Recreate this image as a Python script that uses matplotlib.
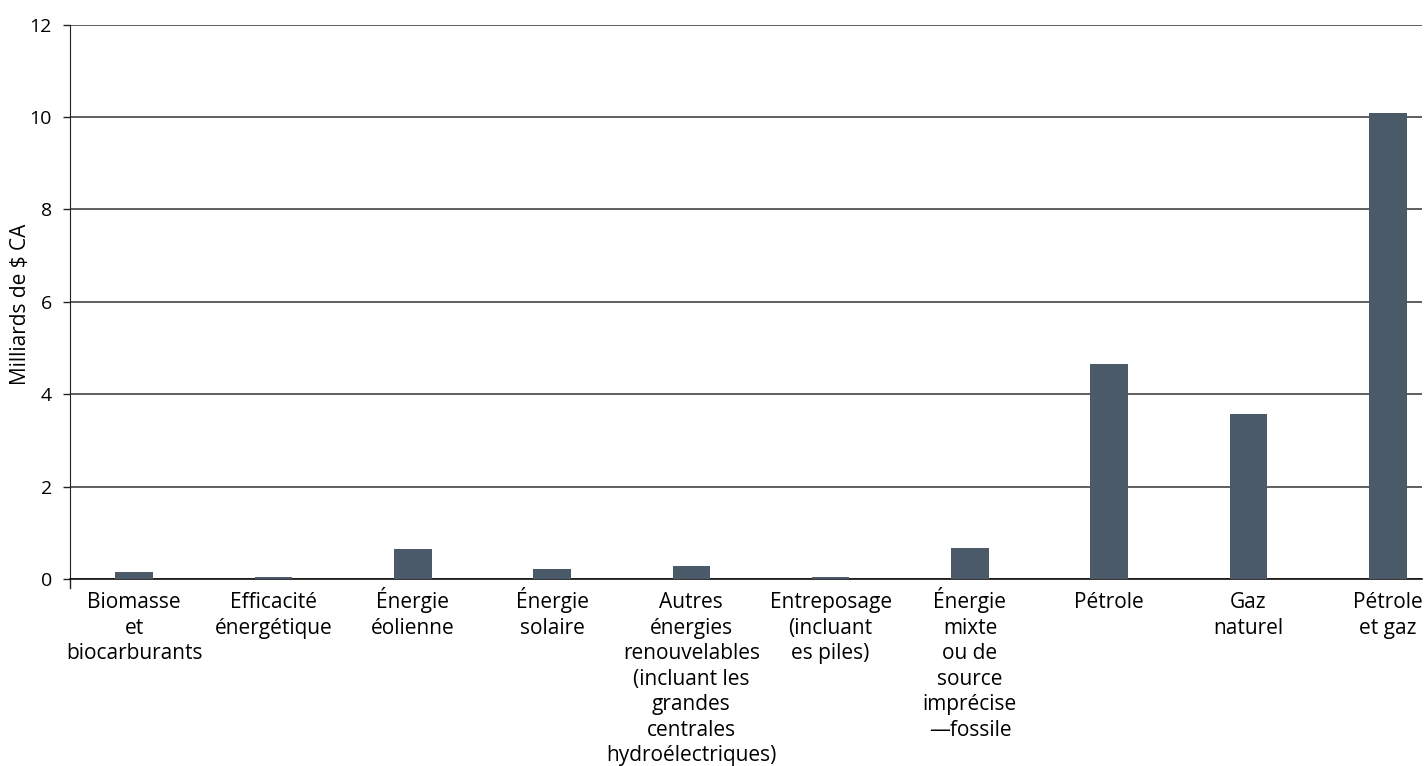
import matplotlib
matplotlib.use("Agg")
import matplotlib.pyplot as plt
import matplotlib.transforms as mtransforms

plt.rcParams['font.family'] = ['Open Sans', 'DejaVu Sans']

categories = [
    "Biomasse\net\nbiocarburants",
    "Efficacité\nénergétique",
    "Énergie\néolienne",
    "Énergie\nsolaire",
    "Autres\nénergies\nrenouvelables\n(incluant les\ngrandes\ncentrales\nhydroélectriques)",
    "Entreposage\n(incluant\nes piles)",
    "Énergie\nmixte\nou de\nsource\nimprécise\n—fossile",
    "Pétrole",
    "Gaz\nnaturel",
    "Pétrole\net gaz",
]
values = [0.15, 0.05, 0.65, 0.22, 0.28, 0.05, 0.67, 4.65, 3.57, 10.09]
yticks = [0, 2, 4, 6, 8, 10, 12]

BAR_COLOR = '#4b5a68'

fig = plt.figure(figsize=(14.24, 7.66), dpi=100)
ax = fig.add_axes([70 / 1424, 1 - 579 / 766, 1352 / 1424, 554.5 / 766])

x = list(range(len(categories)))
ax.bar(x, values, width=0.27, color=BAR_COLOR, zorder=3)

ax.set_ylim(0, 12)
ax.set_xlim(-0.46, len(categories) - 1 + 0.245)
ax.set_yticks(yticks)
ax.set_yticklabels([str(t) for t in yticks], fontsize=14)
ax.set_xticks(x)
ax.set_xticklabels([])
ax.tick_params(axis='x', length=0)
ax.tick_params(axis='y', length=5, width=1, color='#222222', pad=8)

# category labels drawn by hand so that accented first lines share a baseline
base = mtransforms.blended_transform_factory(ax.transData, ax.transAxes)
for xi, label in zip(x, categories):
    dy = -9.5 + (3.5 if label.startswith('É') else 0)
    trans = mtransforms.offset_copy(base, fig=fig, y=dy, units='points')
    ax.text(xi, 0, label, transform=trans, ha='center', va='top',
            ma='center', fontsize=15, linespacing=1.28)

ax.yaxis.grid(True, color='#333333', linewidth=1.1, zorder=0)
ax.set_axisbelow(True)
for side in ['top', 'right']:
    ax.spines[side].set_visible(False)
ax.spines['left'].set_color('#222222')
ax.spines['bottom'].set_color('#111111')
ax.spines['bottom'].set_linewidth(1.2)

# small stub of the y axis below zero, as in the original
ax.plot([0, 0], [0, -0.016], transform=ax.transAxes, color='#222222',
        linewidth=1, clip_on=False)

fig.text(21 / 1424, 1 - 304 / 766, "Milliards de $ CA", rotation=90,
         ha='center', va='center', fontsize=15)

fig.savefig("out.png", dpi=100)
